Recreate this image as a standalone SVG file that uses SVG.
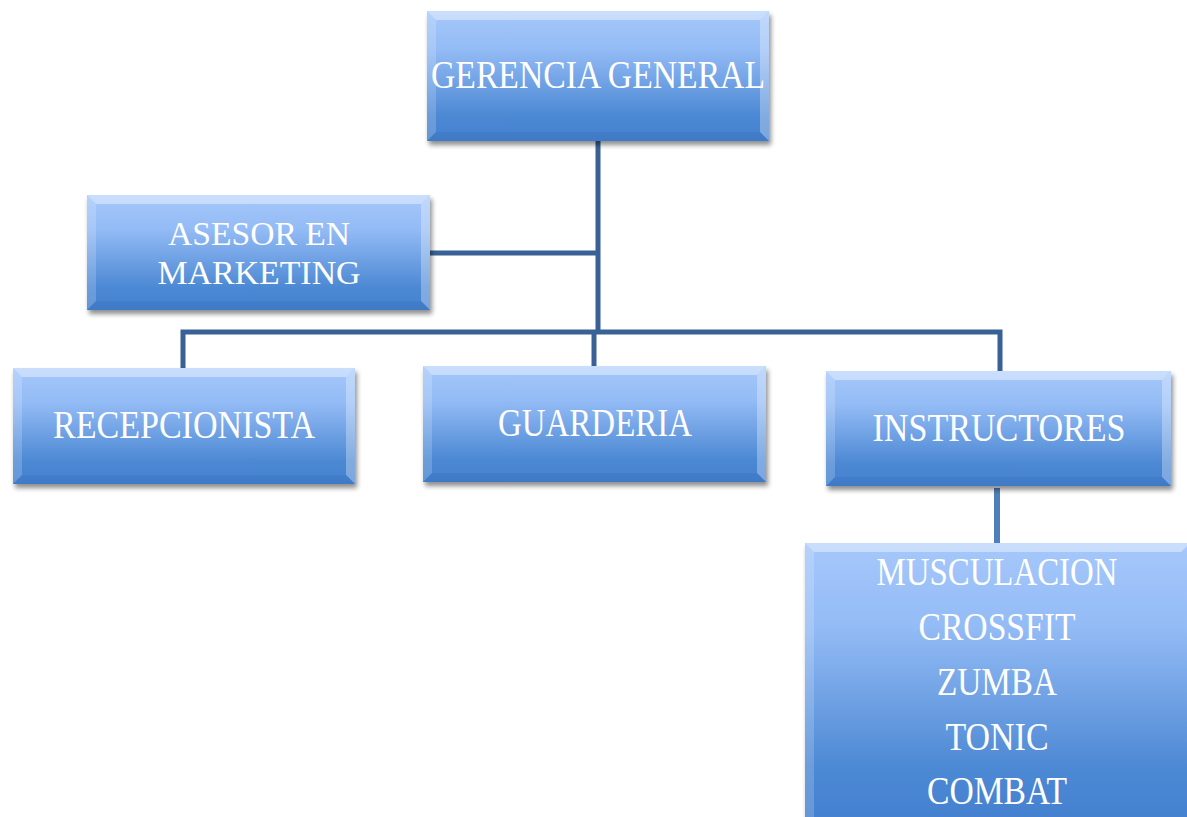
<svg xmlns="http://www.w3.org/2000/svg" width="1187" height="817" viewBox="0 0 1187 817">
<defs>
<linearGradient id="g" x1="0" y1="0" x2="0" y2="1">
<stop offset="0" stop-color="#a6c8fb"/>
<stop offset="0.3" stop-color="#93bbf5"/>
<stop offset="0.8" stop-color="#4d89d4"/>
<stop offset="1" stop-color="#4380cf"/>
</linearGradient>
<filter id="sh" x="-10%" y="-10%" width="125%" height="130%">
<feGaussianBlur in="SourceAlpha" stdDeviation="2.5"/>
<feOffset dx="2" dy="4" result="b"/>
<feComponentTransfer><feFuncA type="linear" slope="0.45"/></feComponentTransfer>
<feMerge><feMergeNode/><feMergeNode in="SourceGraphic"/></feMerge>
</filter>
<style>
.box{fill:url(#g);filter:url(#sh)}
.bt{fill:#ffffff;opacity:0.4}
.bl{fill:#ffffff;opacity:0.18}
.br{fill:#ffffff;opacity:0.3}
.bb{fill:#2f63a8;opacity:0.18}
.t{font-family:"Liberation Serif","DejaVu Serif",serif;font-size:40px;fill:#ffffff;text-anchor:middle}
.s{font-size:34px}
.c{stroke:#3a6195;stroke-width:5;fill:none}
.c2{stroke:#4f7fba;stroke-width:6;fill:none}
</style>
</defs>
<g id="connectors">
<path class="c" d="M598 141 V330"/>
<path class="c" d="M430 253 H598"/>
<path class="c" d="M183 368 V332 H1000 V371"/>
<path class="c" d="M594 332 V366"/>
<path class="c2" d="M997 488 V545"/>
</g>
<g id="gerencia">
<rect class="box" x="427" y="11" width="342" height="130"/>
<polygon class="bt" points="427,11 769,11 760,20 436,20"/>
<polygon class="bl" points="427,11 436,20 436,132 427,141"/>
<polygon class="br" points="769,11 769,141 760,132 760,20"/>
<polygon class="bb" points="427,141 436,132 760,132 769,141"/>
<text class="t" x="598" y="88" textLength="334" lengthAdjust="spacingAndGlyphs">GERENCIA GENERAL</text>
</g>
<g id="asesor">
<rect class="box" x="87" y="195" width="343" height="115"/>
<polygon class="bt" points="87,195 430,195 421,204 96,204"/>
<polygon class="bl" points="87,195 96,204 96,301 87,310"/>
<polygon class="br" points="430,195 430,310 421,301 421,204"/>
<polygon class="bb" points="87,310 96,301 421,301 430,310"/>
<text class="t s" x="259" y="245" textLength="182" lengthAdjust="spacingAndGlyphs">ASESOR EN</text>
<text class="t s" x="259" y="284" textLength="203" lengthAdjust="spacingAndGlyphs">MARKETING</text>
</g>
<g id="recepcionista">
<rect class="box" x="13" y="368" width="342" height="116"/>
<polygon class="bt" points="13,368 355,368 346,377 22,377"/>
<polygon class="bl" points="13,368 22,377 22,475 13,484"/>
<polygon class="br" points="355,368 355,484 346,475 346,377"/>
<polygon class="bb" points="13,484 22,475 346,475 355,484"/>
<text class="t" x="184" y="438" textLength="262" lengthAdjust="spacingAndGlyphs">RECEPCIONISTA</text>
</g>
<g id="guarderia">
<rect class="box" x="423" y="366" width="343" height="116"/>
<polygon class="bt" points="423,366 766,366 757,375 432,375"/>
<polygon class="bl" points="423,366 432,375 432,473 423,482"/>
<polygon class="br" points="766,366 766,482 757,473 757,375"/>
<polygon class="bb" points="423,482 432,473 757,473 766,482"/>
<text class="t" x="595" y="436" textLength="194" lengthAdjust="spacingAndGlyphs">GUARDERIA</text>
</g>
<g id="instructores">
<rect class="box" x="826" y="371" width="345" height="115"/>
<polygon class="bt" points="826,371 1171,371 1162,380 835,380"/>
<polygon class="bl" points="826,371 835,380 835,477 826,486"/>
<polygon class="br" points="1171,371 1171,486 1162,477 1162,380"/>
<polygon class="bb" points="826,486 835,477 1162,477 1171,486"/>
<text class="t" x="999" y="441" textLength="253" lengthAdjust="spacingAndGlyphs">INSTRUCTORES</text>
</g>
<g id="disciplinas">
<rect class="box" x="805" y="543" width="385" height="280"/>
<polygon class="bt" points="805,543 1190,543 1181,552 814,552"/>
<polygon class="bl" points="805,543 814,552 814,820 805,820"/>
<text class="t" x="997" y="585" textLength="241" lengthAdjust="spacingAndGlyphs">MUSCULACION</text>
<text class="t" x="997" y="640" textLength="157" lengthAdjust="spacingAndGlyphs">CROSSFIT</text>
<text class="t" x="997" y="695" textLength="120" lengthAdjust="spacingAndGlyphs">ZUMBA</text>
<text class="t" x="997" y="750" textLength="103" lengthAdjust="spacingAndGlyphs">TONIC</text>
<text class="t" x="997" y="804" textLength="140" lengthAdjust="spacingAndGlyphs">COMBAT</text>
</g>
</svg>
